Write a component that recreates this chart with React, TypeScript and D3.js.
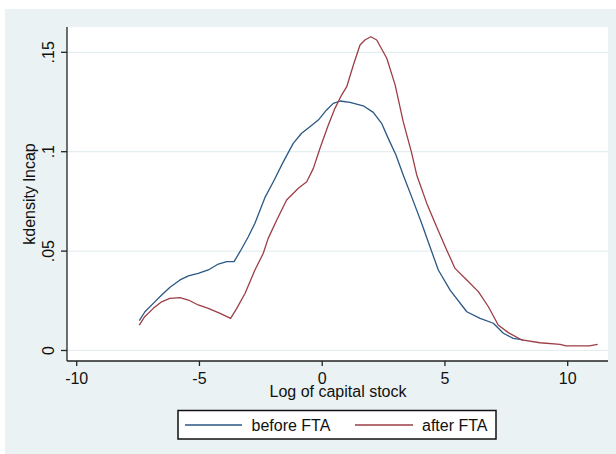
import * as React from "react";
import * as d3 from "d3";

// kernel density of log capital stock
const beforeX = [-7.45, -7.22, -6.88, -6.54, -6.2, -5.79, -5.45, -5.05, -4.64, -4.23, -3.89, -3.59, -3.35, -3.01, -2.74, -2.53, -2.33, -1.99, -1.58, -1.18, -0.84, -0.5, -0.16, 0.18, 0.45, 0.73, 1.13, 1.67, 2.08, 2.42, 2.69, 3.0, 3.3, 3.64, 4.05, 4.39, 4.73, 5.21, 5.89, 6.43, 6.97, 7.38, 7.78, 8.19];
const beforeY = [0.015, 0.0195, 0.0237, 0.0279, 0.0318, 0.0355, 0.0375, 0.0388, 0.0405, 0.0435, 0.0447, 0.0447, 0.0497, 0.0572, 0.064, 0.0707, 0.077, 0.0849, 0.095, 0.1042, 0.1093, 0.1126, 0.1159, 0.121, 0.1243, 0.1255, 0.1248, 0.1231, 0.1198, 0.1143, 0.1067, 0.0985, 0.0883, 0.0774, 0.064, 0.0522, 0.0405, 0.0304, 0.0195, 0.0162, 0.0137, 0.0087, 0.0061, 0.0053];

const afterX = [-7.45, -7.23, -6.88, -6.54, -6.21, -5.79, -5.45, -5.05, -4.64, -4.16, -3.73, -3.48, -3.14, -2.74, -2.4, -2.2, -1.85, -1.45, -0.97, -0.63, -0.36, -0.09, 0.25, 0.52, 0.79, 1.0, 1.27, 1.54, 1.74, 1.98, 2.22, 2.63, 2.97, 3.3, 3.64, 3.85, 4.26, 4.66, 5.07, 5.41, 5.89, 6.36, 6.77, 7.17, 7.58, 8.13, 8.87, 9.69, 9.93, 10.88, 11.22];
const afterY = [0.0128, 0.017, 0.0212, 0.0245, 0.0262, 0.0266, 0.0254, 0.0229, 0.0212, 0.0187, 0.0162, 0.0212, 0.0288, 0.0405, 0.0489, 0.0564, 0.0656, 0.0757, 0.0816, 0.0849, 0.0916, 0.1017, 0.1134, 0.1218, 0.1285, 0.1327, 0.1436, 0.1537, 0.1562, 0.1578, 0.1562, 0.147, 0.1336, 0.1151, 0.0995, 0.0883, 0.074, 0.0623, 0.0506, 0.0413, 0.0355, 0.0296, 0.022, 0.0128, 0.009, 0.0053, 0.0039, 0.0031, 0.0023, 0.0023, 0.0031];

const xTicks = [-10, -5, 0, 5, 10];
const yTicks = [0, 0.05, 0.1, 0.15];
const yTickLabels = ["0", ".05", ".1", ".15"];
const seriesNames = ["before FTA", "after FTA"];

const W = 616;
const H = 454;
const BG = "#eaf2f3";
const NAVY = "#2a5783";
const MAROON = "#9c3e45";
const FONT = "'Liberation Sans', Arial, sans-serif";

export default function App() {
  const x = d3.scaleLinear().domain([-10, 10]).range([76.7, 567.7]);
  const y = d3.scaleLinear().domain([0, 0.15]).range([350.5, 52.3]);

  const plotLeft = 67;
  const plotRight = 608;
  const plotTop = 27;
  const plotBottom = 361;

  const beforePath = d3
    .line<number>()
    .x((i) => x(beforeX[i]))
    .y((i) => y(beforeY[i]))(d3.range(beforeX.length));
  const afterPath = d3
    .line<number>()
    .x((i) => x(afterX[i]))
    .y((i) => y(afterY[i]))(d3.range(afterX.length));

  return (
    <>
      <style>{`body{margin:0}`}</style>
      <svg width={W} height={H} style={{ display: "block", fontFamily: FONT }}>
        <rect x={0} y={0} width={W} height={H} fill="#ffffff" />
        <rect x={5} y={9} width={W - 5} height={H - 9} fill={BG} />
        <rect x={plotLeft} y={plotTop} width={plotRight - plotLeft} height={plotBottom - plotTop} fill="#ffffff" />

        {yTicks.map((t) => (
          <line key={"g" + t} x1={plotLeft} x2={plotRight} y1={y(t)} y2={y(t)} stroke="#e4eef0" strokeWidth={1.2} />
        ))}

        <path d={beforePath ?? ""} fill="none" stroke={NAVY} strokeWidth={1.3} strokeLinejoin="round" />
        <path d={afterPath ?? ""} fill="none" stroke={MAROON} strokeWidth={1.3} strokeLinejoin="round" />

        {/* axes */}
        <line x1={plotLeft} x2={plotLeft} y1={plotTop} y2={plotBottom} stroke="#222" strokeWidth={1.3} />
        <line x1={plotLeft} x2={plotRight} y1={plotBottom} y2={plotBottom} stroke="#222" strokeWidth={1.3} />

        {yTicks.map((t, i) => (
          <g key={"y" + t}>
            <line x1={plotLeft - 6} x2={plotLeft} y1={y(t)} y2={y(t)} stroke="#222" strokeWidth={1.3} />
            <text
              transform={`translate(54,${y(t)}) rotate(-90)`}
              textAnchor="middle"
              fontSize={16}
              fill="#111"
            >
              {yTickLabels[i]}
            </text>
          </g>
        ))}

        {xTicks.map((t) => (
          <g key={"x" + t}>
            <line x1={x(t)} x2={x(t)} y1={plotBottom} y2={plotBottom + 5} stroke="#222" strokeWidth={1.3} />
            <text x={x(t)} y={384} textAnchor="middle" fontSize={16} fill="#111">
              {t}
            </text>
          </g>
        ))}

        <text x={338} y={397} textAnchor="middle" fontSize={16} fill="#111">
          Log of capital stock
        </text>
        <text transform={`translate(35,194) rotate(-90)`} textAnchor="middle" fontSize={16} fill="#111">
          kdensity lncap
        </text>

        {/* legend */}
        <rect x={178} y={410.5} width={318} height={28.5} fill="#ffffff" stroke="#111" strokeWidth={1.5} />
        <line x1={185} x2={242} y1={425} y2={425} stroke={NAVY} strokeWidth={1.3} />
        <text x={251.5} y={431} fontSize={16} fill="#111">
          {seriesNames[0]}
        </text>
        <line x1={355} x2={413} y1={425} y2={425} stroke={MAROON} strokeWidth={1.3} />
        <text x={422} y={431} fontSize={16} fill="#111">
          {seriesNames[1]}
        </text>
      </svg>
    </>
  );
}
